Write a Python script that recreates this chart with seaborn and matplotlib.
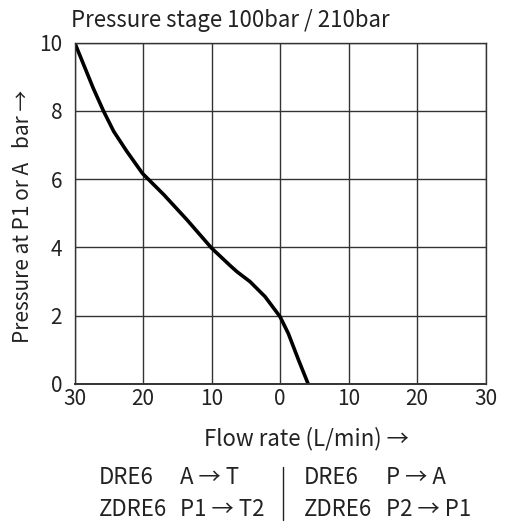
import matplotlib
matplotlib.use("Agg")
import matplotlib.pyplot as plt
import seaborn as sns
import pandas as pd

# Data (flow: negative = left half A->T, positive = right half P->A)
flow = [-30, -28.7, -27.3, -25.8, -24.3, -22.4, -20.1, -17.0, -13.6, -10.0,
        -7.3, -6.3, -4.4, -2.2, 0.0, 1.2, 2.7, 4.1]
pressure = [10, 9.36, 8.67, 8.0, 7.4, 6.82, 6.17, 5.55, 4.81, 3.98,
            3.47, 3.29, 3.0, 2.56, 1.97, 1.48, 0.7, 0.0]
x_ticks = [-30, -20, -10, 0, 10, 20, 30]
x_tick_labels = ["30", "20", "10", "0", "10", "20", "30"]
y_ticks = [0, 2, 4, 6, 8, 10]
y_tick_labels = ["0", "2", "4", "6", "8", "10"]
title = "Pressure stage 100bar / 210bar"
xlabel = "Flow rate (L/min) →"
ylabel = "Pressure at P1 or A   bar →"
left_names = ["DRE6", "ZDRE6"]
left_paths = ["A → T", "P1 → T2"]
right_names = ["DRE6", "ZDRE6"]
right_paths = ["P → A", "P2 → P1"]

sns.set_theme(style="white")
plt.rcParams['font.family'] = ['Noto Sans CJK SC', 'DejaVu Sans']
FS = 16
TFS = 15
TXT = "#222222"

W, H = 505, 524
fig = plt.figure(figsize=(W / 100, H / 100), dpi=100)
ax = fig.add_axes([74.7 / W, 1 - 384 / H, (485.5 - 74.7) / W, (384 - 42.7) / H])

df = pd.DataFrame({"flow": flow, "pressure": pressure})
sns.lineplot(data=df, x="flow", y="pressure", sort=False, color="black", lw=2.6, ax=ax,
             solid_joinstyle="round", solid_capstyle="round")

ax.set_xlim(-30, 30)
ax.set_ylim(0, 10)
ax.set_xticks(x_ticks)
ax.set_xticklabels(x_tick_labels)
ax.set_yticks(y_ticks)
ax.set_yticklabels(y_tick_labels)
ax.tick_params(axis="both", length=0, labelsize=TFS, colors=TXT)
ax.tick_params(axis="x", pad=3)
ax.tick_params(axis="y", pad=9)
ax.grid(True, color="#333333", lw=1.0)
for s in ax.spines.values():
    s.set_color("#333333")
    s.set_linewidth(1.0)
ax.spines["bottom"].set_linewidth(1.4)
ax.set_xlabel("")
ax.set_ylabel("")

def px(x, y):
    return x / W, 1 - y / H

fig.text(*px(71, 20), title, fontsize=FS, color=TXT, ha="left", va="center")
fig.text(*px(306, 439), xlabel, fontsize=FS, color=TXT, ha="center", va="center")
fig.text(*px(23, 216), ylabel, fontsize=TFS, color=TXT, ha="center", va="center",
         rotation=90)

row_y = [478, 510]
for i, yy in enumerate(row_y):
    fig.text(*px(99, yy), left_names[i], fontsize=FS, color=TXT, ha="left", va="center")
    fig.text(*px(180, yy), left_paths[i], fontsize=FS, color=TXT, ha="left", va="center")
    fig.text(*px(304, yy), right_names[i], fontsize=FS, color=TXT, ha="left", va="center")
    fig.text(*px(386, yy), right_paths[i], fontsize=FS, color=TXT, ha="left", va="center")

fig.add_artist(matplotlib.lines.Line2D([283 / W, 283 / W], [1 - 467 / H, 1 - 520 / H],
                                       color=TXT, lw=1.0))

fig.savefig("out.png", dpi=100)
